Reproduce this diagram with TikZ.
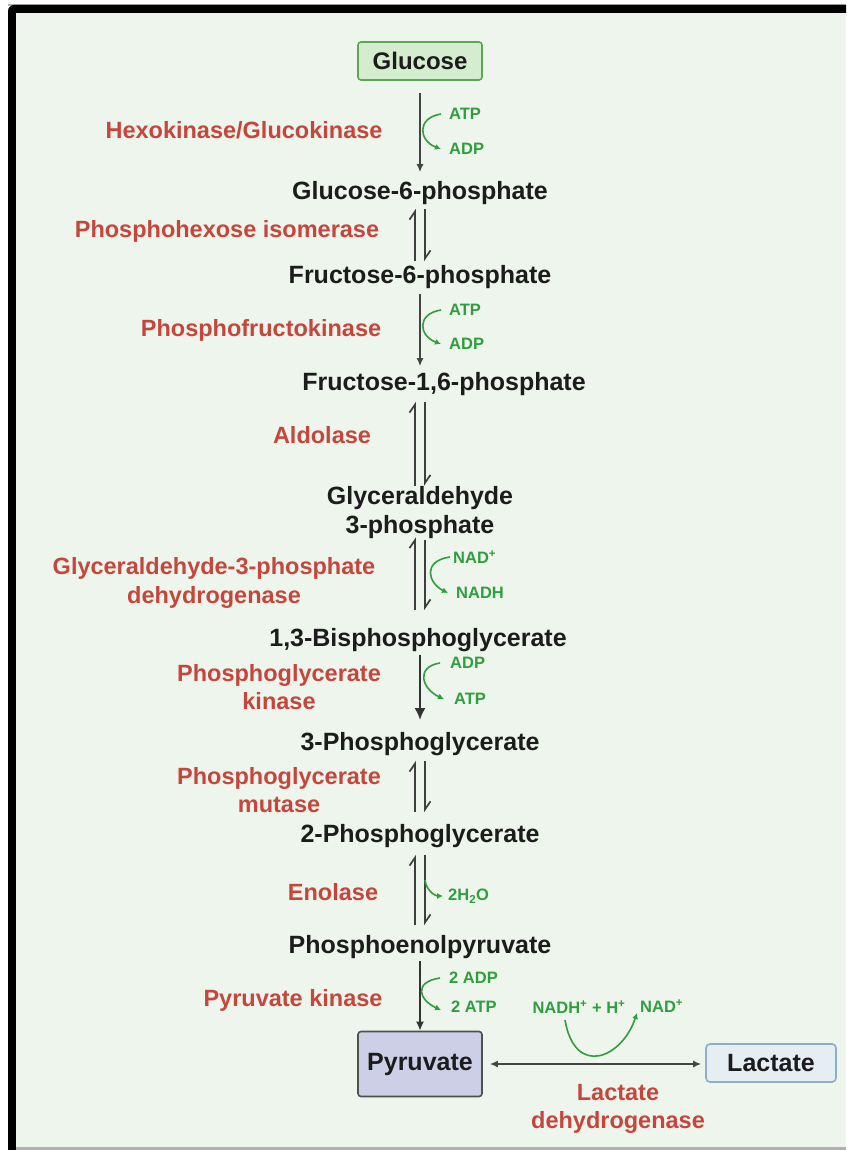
\documentclass[tikz,border=0pt]{standalone}
\usepackage{fontspec}
\setmainfont{Liberation Sans}
\usetikzlibrary{arrows.meta,calc}
\definecolor{bgc}{HTML}{EEF5EC}
\definecolor{redt}{HTML}{C5463C}
\definecolor{greent}{HTML}{2E9E3E}
\definecolor{blackt}{HTML}{1C1C1C}
\definecolor{arrc}{HTML}{444444}
\definecolor{glcfill}{HTML}{D4EDCE}
\definecolor{glcdraw}{HTML}{5FA556}
\definecolor{pyrfill}{HTML}{CDCFE6}
\definecolor{pyrdraw}{HTML}{505050}
\definecolor{lacfill}{HTML}{E4EEF3}
\definecolor{lacdraw}{HTML}{8DAFC6}
\definecolor{framegrey}{HTML}{B0B0B0}
\tikzset{
  met/.style={font=\fontsize{25}{29}\selectfont\bfseries, text=blackt, inner sep=0pt, align=center},
  enz/.style={font=\fontsize{23.5}{28.5}\selectfont\bfseries, text=redt, inner sep=0pt, align=center},
  cof/.style={font=\fontsize{16.5}{19}\selectfont\bfseries, text=greent, inner sep=0pt, anchor=west},
  mainarr/.style={draw=arrc, line width=1.4pt, -{Latex[length=8pt,width=7pt]}},
  thickarr/.style={draw=blackt!90, line width=2.4pt, -{Latex[length=12pt,width=11pt]}},
  eqline/.style={draw=blackt!85, line width=1.7pt, -{Straight Barb[left,length=8pt,width=11pt]}},
  cofarr/.style={draw=greent, line width=1.6pt, -{Latex[length=6pt,width=6pt]}},
}
\begin{document}
\begin{tikzpicture}[x=1pt,y=-1pt]
\useasboundingbox (0,0) rectangle (846,1150);
\fill[white] (0,0) rectangle (846,1150);
\fill[framegrey] (8,4) rectangle (846,6);
\fill[black] (8,1150) -- (8,11) arc[start angle=180, end angle=270, radius=6] -- (846,5) -- (846,13) -- (16,13) -- (16,1150) -- cycle;
\fill[bgc] (16,13) rectangle (846,1147);
\fill[framegrey] (16,1147) rectangle (846,1150);

% metabolites
\node[draw=glcdraw, fill=glcfill, line width=1.6pt, rounded corners=3pt, minimum width=124pt, minimum height=38pt, font=\fontsize{24}{28}\selectfont\bfseries, text=blackt, inner sep=0pt] (glc) at (420,61) {Glucose};
\node[met] (g6p) at (420,193) {Glucose-6-phosphate};
\node[met] (f6p) at (420,277) {Fructose-6-phosphate};
\node[met] (f16) at (444,384) {Fructose-1,6-phosphate};
\node[met] (gap) at (420,513) {Glyceraldehyde\\3-phosphate};
\node[met] (bpg) at (418,640) {1,3-Bisphosphoglycerate};
\node[met] (pg3) at (420,744) {3-Phosphoglycerate};
\node[met] (pg2) at (420,836) {2-Phosphoglycerate};
\node[met] (pep) at (420,947) {Phosphoenolpyruvate};
\node[draw=pyrdraw, fill=pyrfill, line width=1.6pt, rounded corners=3pt, minimum width=124pt, minimum height=65pt, font=\fontsize{25}{29}\selectfont\bfseries, text=blackt, inner sep=0pt] (pyr) at (420,1064) {Pyruvate};
\node[draw=lacdraw, fill=lacfill, line width=1.6pt, rounded corners=4pt, minimum width=130pt, minimum height=38pt, font=\fontsize{25}{29}\selectfont\bfseries, text=blackt, inner sep=0pt] (lac) at (771,1063) {Lactate};

% enzymes
\node[enz] (hk) at (244,130) {Hexokinase/Glucokinase};
\node[enz] (phi) at (227,231) {Phosphohexose isomerase};
\node[enz] (pfk) at (261,330) {Phosphofructokinase};
\node[enz] (ald) at (322,435) {Aldolase};
\node[enz] (gapdh) at (214,583) {Glyceraldehyde-3-phosphate\\dehydrogenase};
\node[enz] (pgk) at (279,687) {Phosphoglycerate\\kinase};
\node[enz] (pgm) at (279,790) {Phosphoglycerate\\mutase};
\node[enz] (eno) at (333,892) {Enolase};
\node[enz] (pk) at (293,1000) {Pyruvate kinase};
\node[enz] (ldh) at (618,1109) {Lactate\\dehydrogenase};

% cofactors
\node[cof] (atp1) at (449,114) {ATP};
\node[cof] (adp1) at (449,149) {ADP};
\node[cof] (atp2) at (449,310) {ATP};
\node[cof] (adp2) at (449,344) {ADP};
\node[cof] (nad) at (453,557) {NAD\textsuperscript{+}};
\node[cof] (nadh) at (456,593) {NADH};
\node[cof] (adp3) at (450,663) {ADP};
\node[cof] (atp3) at (454,699) {ATP};
\node[cof] (h2o) at (448,896) {2H\textsubscript{2}O};
\node[cof] (adp4) at (449,978) {2 ADP};
\node[cof] (atp4) at (451,1007) {2 ATP};
\node[cof, anchor=center] (nadhh) at (579,1007) {NADH\textsuperscript{+} + H\textsuperscript{+}};
\node[cof] (nadp) at (640,1006) {NAD\textsuperscript{+}};

% main arrows
\draw[mainarr, shorten <=12pt, shorten >=9pt] (glc.south) -- (glc.south |- g6p.north);
\draw[mainarr, shorten <=5pt, shorten >=6pt] (f6p.south) -- (f6p.south |- f16.north);
\draw[thickarr, shorten <=3pt, shorten >=12pt] (bpg.south -| pg3.north) -- (pg3.north);
\draw[draw=blackt!90, line width=2pt, -{Latex[length=9pt,width=8pt]}, shorten <=2pt] (pep.south) -- (pyr.north);

% equilibrium arrows
\draw[eqline, shorten <=4pt, shorten >=4pt] ($(f6p.north)+(-5,0)$) -- ($(g6p.south)+(-5,0)$);
\draw[eqline, shorten <=4pt, shorten >=4pt] ($(g6p.south)+(5,0)$) -- ($(f6p.north)+(5,0)$);
\draw[eqline, shorten <=1pt, shorten >=6pt] ($(gap.north)+(-5,0)$) -- ($(gap.north |- f16.south)+(-5,0)$);
\draw[eqline, shorten <=6pt, shorten >=1pt] ($(gap.north |- f16.south)+(5,0)$) -- ($(gap.north)+(5,0)$);
\draw[eqline, shorten <=18pt, shorten >=-2pt] ($(bpg.north -| gap.south)+(-5,0)$) -- ($(gap.south)+(-5,0)$);
\draw[eqline, shorten <=1pt, shorten >=18pt] ($(gap.south)+(5,0)$) -- ($(bpg.north -| gap.south)+(5,0)$);
\draw[eqline, shorten <=12pt, shorten >=5pt] ($(pg2.north)+(-5,0)$) -- ($(pg3.south)+(-5,0)$);
\draw[eqline, shorten <=5pt, shorten >=12pt] ($(pg3.south)+(5,0)$) -- ($(pg2.north)+(5,0)$);
\draw[eqline, shorten <=10pt, shorten >=7pt] ($(pep.north)+(-5,0)$) -- ($(pg2.south)+(-5,0)$);
\draw[eqline, shorten <=7pt, shorten >=10pt] ($(pg2.south)+(5,0)$) -- ($(pep.north)+(5,0)$);

% lactate
\draw[draw=arrc, line width=1.8pt, {Latex[length=8pt,width=7pt]}-{Latex[length=8pt,width=7pt]}, shorten <=7pt, shorten >=4pt] (pyr.east) -- (pyr.east -| lac.west);

% cofactor curves
\draw[cofarr] ([xshift=-8pt]atp1.west) .. controls +(-25,4) and +(-22,-8) .. ([xshift=-8pt]adp1.west);
\draw[cofarr] ([xshift=-8pt]atp2.west) .. controls +(-25,4) and +(-22,-8) .. ([xshift=-8pt]adp2.west);
\draw[cofarr] ([xshift=-3pt]nad.west) .. controls +(-28,4) and +(-20,-10) .. ([xshift=-8pt]nadh.west);
\draw[cofarr] ([xshift=-10pt]adp3.west) .. controls +(-25,4) and +(-22,-10) .. ([xshift=-10pt]atp3.west);
\draw[cofarr] ($(h2o.west)+(-23,-16)$) .. controls +(1,10) and +(-8,0) .. ([xshift=-5pt]h2o.west);
\draw[cofarr] ([xshift=-9pt]adp4.west) .. controls +(-27,4) and +(-22,-10) .. ([xshift=-10pt,yshift=-3pt]atp4.west);
\draw[cofarr] ($(nadhh.center)+(-14,13)$) .. controls +(10,58) and +(-15,45) .. ($(nadp.west)+(-3,7)$);
\end{tikzpicture}
\end{document}
